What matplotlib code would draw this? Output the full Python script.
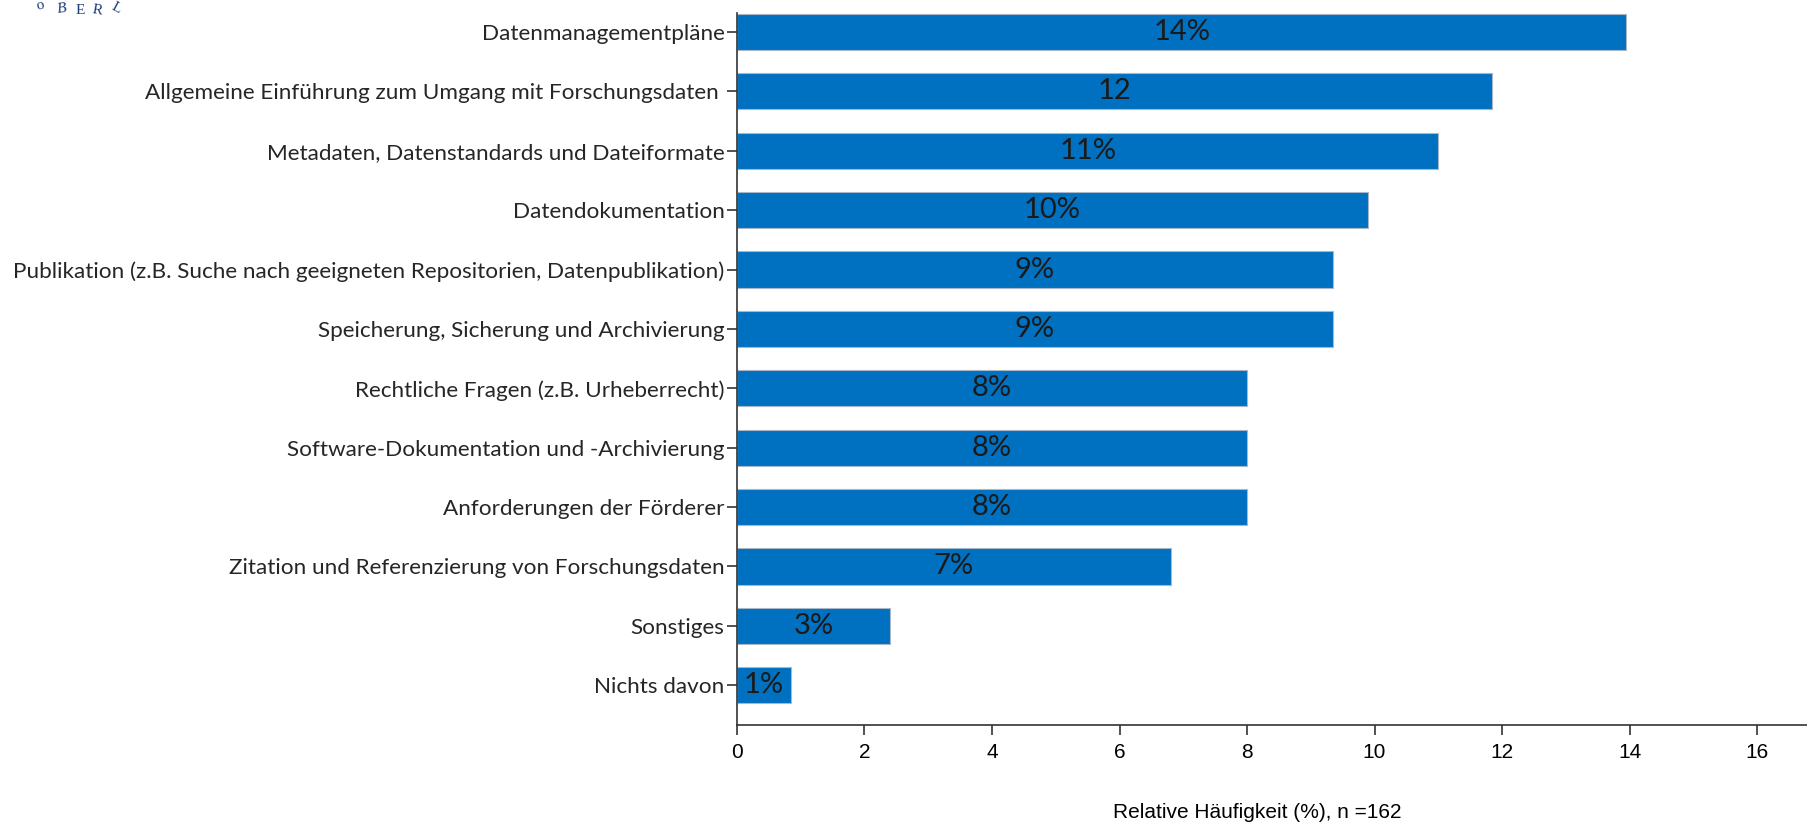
import numpy as np
import matplotlib.pyplot as plt
from matplotlib import font_manager

# Themen (von oben nach unten) und relative Haeufigkeit in %
kategorien = [
    "Datenmanagementpläne",
    "Allgemeine Einführung zum Umgang mit Forschungsdaten ",
    "Metadaten, Datenstandards und Dateiformate",
    "Datendokumentation",
    "Publikation (z.B. Suche nach geeigneten Repositorien, Datenpublikation)",
    "Speicherung, Sicherung und Archivierung",
    "Rechtliche Fragen (z.B. Urheberrecht)",
    "Software-Dokumentation und -Archivierung",
    "Anforderungen der Förderer",
    "Zitation und Referenzierung von Forschungsdaten",
    "Sonstiges",
    "Nichts davon",
]
werte = [13.95, 11.85, 11.0, 9.9, 9.35, 9.35, 8.0, 8.0, 8.0, 6.8, 2.4, 0.85]
beschriftung = ["14%", "12", "11%", "10%", "9%", "9%", "8%", "8%", "8%", "7%", "3%", "1%"]
x_ticks = [0, 2, 4, 6, 8, 10, 12, 14, 16]

namen = {f.name for f in font_manager.fontManager.ttflist}
schmal = "Liberation Sans Narrow" if "Liberation Sans Narrow" in namen else "Liberation Sans"
text_font = "Lato"

blau = "#0070C0"

fig = plt.figure(figsize=(18.08, 8.25), dpi=100)
ax = fig.add_axes([737 / 1808, 1 - 725 / 825, 1 - 737 / 1808, (725 - 13) / 825])

y = np.arange(len(kategorien))
ax.barh(y, werte, height=0.61, color=blau, edgecolor="#a8b8c8", linewidth=0.8)

for i in range(len(werte)):
    ax.text(werte[i] / 2, y[i], beschriftung[i], ha="center", va="center",
            fontsize=21, color="#1a1a1a", family=text_font)

ax.set_xlim(0, 16.8)
ax.set_ylim(len(kategorien) - 0.33, -0.32)
ax.set_yticks(y)
ax.set_yticklabels(kategorien, fontsize=16.2, color="#262626", family=text_font)
ax.set_xticks(x_ticks)
ax.set_xticklabels([str(t) for t in x_ticks], fontsize=15, family=schmal)

for s in ["top", "right"]:
    ax.spines[s].set_visible(False)
ax.spines["left"].set_color("#333333")
ax.spines["bottom"].set_color("#333333")
ax.spines["left"].set_linewidth(1.2)
ax.spines["bottom"].set_linewidth(1.2)
ax.tick_params(axis="y", length=7, width=1.2, pad=2, color="#333333")
ax.tick_params(axis="x", length=7, width=1.2, pad=6, color="#333333")

fig.text(1257 / 1808, 1 - 813 / 825, "Relative Häufigkeit (%), n =162",
         ha="center", va="center", fontsize=15, family=schmal)

# Rest des Logos oben links
navy = "#1c3f78"
logo = [("o", 40, 6, 15), ("B", 62, 9, 8), ("E", 80, 11, 0), ("R", 97, 10, -10), ("L", 116, 8, -28)]
for ch, px, py, rot in logo:
    fig.text(px / 1808, 1 - py / 825, ch, ha="center", va="center", fontsize=11,
             color=navy, family="Liberation Serif", style="italic" if ch == "B" else "normal",
             rotation=rot)

fig.savefig("out.png", dpi=100)
